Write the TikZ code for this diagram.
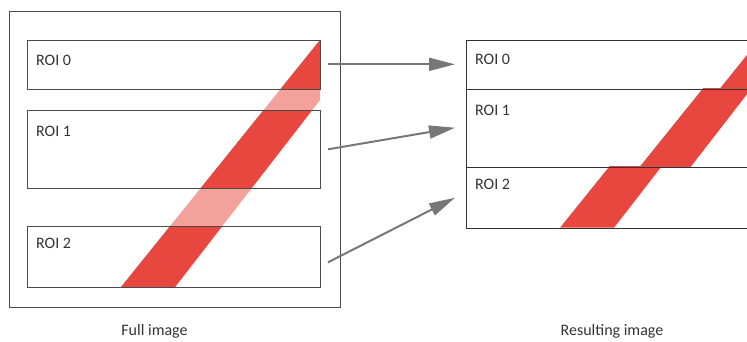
\documentclass[tikz,border=0pt]{standalone}
\usepackage{fontspec}
\setmainfont{Carlito}
\usetikzlibrary{arrows.meta}
\definecolor{bandred}{HTML}{E8473F}
\definecolor{bandpink}{HTML}{F4A09B}
\definecolor{framegray}{HTML}{4A4A4A}
\definecolor{darkframe}{HTML}{333333}
\definecolor{arrowgray}{HTML}{777777}
\definecolor{txtgray}{HTML}{333333}
\tikzset{
  roibox/.style={draw=framegray, line width=1.1pt, inner sep=0pt, anchor=north west},
  resbox/.style={roibox, draw=darkframe},
  roilabel/.style={anchor=base west, inner sep=0pt, text=txtgray, font=\fontsize{16}{19}\selectfont},
  caption/.style={anchor=base, inner sep=0pt, text=txtgray, font=\fontsize{16}{19}\selectfont},
  maparrow/.style={draw=arrowgray, line width=2pt, -{Triangle[length=26pt,width=13pt]}},
}
\newcommand{\band}{(320,40) -- (121,287) -- (175,287) -- (320,100) -- cycle}
\begin{document}
\begin{tikzpicture}[x=1pt,y=-1pt]
\useasboundingbox (0,0) rectangle (747,341);
\begin{scope}
\clip (0,0) rectangle (747,341);
% full image
\node[roibox, minimum width=331pt, minimum height=296pt] (full) at (9,11) {};
\fill[bandpink] \band;
\foreach \ya/\yb in {40/89,110/188,226/287}{
  \begin{scope}
    \clip (27,\ya) rectangle (320,\yb);
    \fill[bandred] \band;
  \end{scope}
}
\node[roibox, minimum width=293pt, minimum height=49pt] (l0) at (27,40) {};
\node[roibox, minimum width=293pt, minimum height=78pt] (l1) at (27,110) {};
\node[roibox, minimum width=293pt, minimum height=61pt] (l2) at (27,226) {};
\node[roilabel] (t0) at (36,65) {ROI 0};
\node[roilabel] (t1) at (36,136) {ROI 1};
\node[roilabel] (t2) at (36,248.5) {ROI 2};
% resulting image
\foreach \ya/\yb/\dy in {40/89/0,110/188/-21.3,226/287/-59.3}{
  \begin{scope}[shift={(439,\dy)}]
    \clip (27,\ya) rectangle (320,\yb);
    \fill[bandred] \band;
  \end{scope}
}
\node[resbox, minimum width=293pt, minimum height=48.7pt] (r0) at (466,40) {};
\node[resbox, minimum width=293pt, minimum height=78pt] (r1) at (466,88.7) {};
\node[resbox, minimum width=293pt, minimum height=61.3pt] (r2) at (466,166.7) {};
\node[roilabel] (s0) at (475,64.3) {ROI 0};
\node[roilabel] (s1) at (475,115) {ROI 1};
\node[roilabel] (s2) at (475,189.3) {ROI 2};
% arrows
\coordinate (a0) at (328,64.3);
\coordinate (a1) at (328,149.3);
\coordinate (a2) at (328,262.3);
\coordinate (b0) at (455,64.3);
\coordinate (b1) at (455,127.7);
\coordinate (b2) at (455,197.7);
\draw[maparrow] (a0) -- (b0);
\draw[maparrow] (a1) -- (b1);
\draw[maparrow] (a2) -- (b2);
% captions
\node[caption] (c0) at (154.5,335) {Full image};
\node[caption] (c1) at (612,335) {Resulting image};
\end{scope}
\end{tikzpicture}
\end{document}
